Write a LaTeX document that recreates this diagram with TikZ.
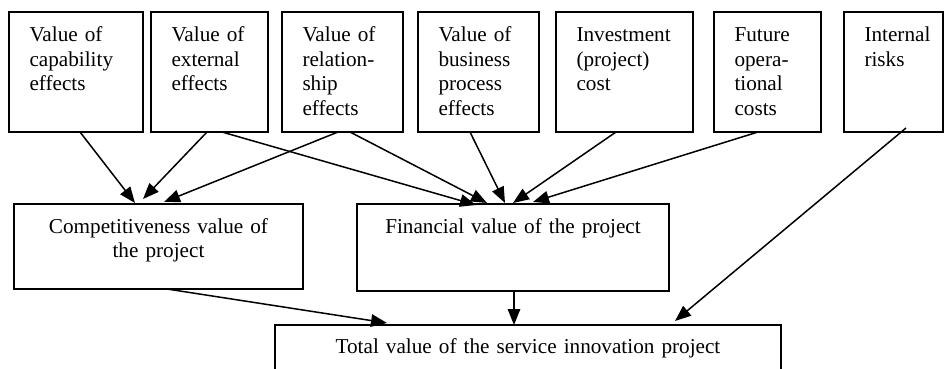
\documentclass[tikz,border=0pt]{standalone}
\usepackage{fontspec}
\setmainfont{Liberation Serif}
\usetikzlibrary{arrows.meta}
\begin{document}
\begin{tikzpicture}[x=1pt,y=-1pt,
  font=\fontsize{21.2}{24.4}\selectfont,
  boxbase/.style={draw, line width=1.6pt, anchor=north west, outer sep=0pt, inner ysep=0pt},
  topbox/.style={boxbase, inner xsep=20.5pt, align=left, text height=30pt, text depth=90pt, minimum height=120pt},
  midbox/.style={boxbase, inner xsep=5pt, align=center, text height=29pt},
  arr/.style={line width=1.5pt, -{Triangle[length=16pt,width=12.5pt]}}]
\clip (0,0) rectangle (946,369);
% top row
\node[topbox, text width=93pt] (b1) at (9,12) {Value of\\capability\\effects};
\node[topbox, text width=76pt] (b2) at (151,12) {Value of\\external\\effects};
\node[topbox, text width=80pt] (b3) at (282,12) {Value of\\relation-\\ship\\effects};
\node[topbox, text width=80pt] (b4) at (418,12) {Value of\\business\\process\\effects};
\node[topbox, text width=96pt] (b5) at (556,12) {Investment\\(project)\\cost};
\node[topbox, text width=66pt] (b6) at (714,12) {Future\\opera-\\tional\\costs};
\node[topbox, text width=58pt] (b7) at (844,12) {Internal\\risks};
% middle row
\node[midbox, text width=270pt, minimum width=289pt, text depth=56pt] (comp) at (14,204) {Competitiveness value of\\the project};
\node[midbox, text width=290pt, minimum width=312pt, text depth=58pt] (fin) at (357,204) {Financial value of the project};
% bottom
\node[midbox, text width=490pt, minimum width=506pt, text height=28pt, text depth=50pt] (tot) at (275,325) {Total value of the service innovation project};
% arrows to competitiveness
\draw[arr] ([xshift=71pt]b1.south west) -- ([xshift=121pt,yshift=1pt]comp.north west);
\draw[arr] ([xshift=56pt]b2.south west) -- ([xshift=129pt,yshift=5pt]comp.north west);
\draw[arr] ([xshift=56pt]b3.south west) -- ([xshift=150pt,yshift=2pt]comp.north west);
% arrows to financial
\draw[arr] ([xshift=71pt]b2.south west) -- ([xshift=119pt,yshift=-1pt]fin.north west);
\draw[arr] ([xshift=68pt]b3.south west) -- ([xshift=130pt,yshift=1pt]fin.north west);
\draw[arr] ([xshift=52pt]b4.south west) -- ([xshift=148pt,yshift=1pt]fin.north west);
\draw[arr] ([xshift=60pt]b5.south west) -- ([xshift=156pt,yshift=1pt]fin.north west);
\draw[arr] ([xshift=44pt]b6.south west) -- ([xshift=176pt,yshift=2pt]fin.north west);
% arrows to total
\draw[arr] ([xshift=153pt]comp.south west) -- ([xshift=112pt,yshift=2pt]tot.north west);
\draw[arr] ([xshift=157pt]fin.south west) -- ([xshift=239pt]tot.north west);
\draw[arr] ([xshift=62pt,yshift=4pt]b7.south west) -- ([xshift=400pt,yshift=4pt]tot.north west);
\end{tikzpicture}
\end{document}
